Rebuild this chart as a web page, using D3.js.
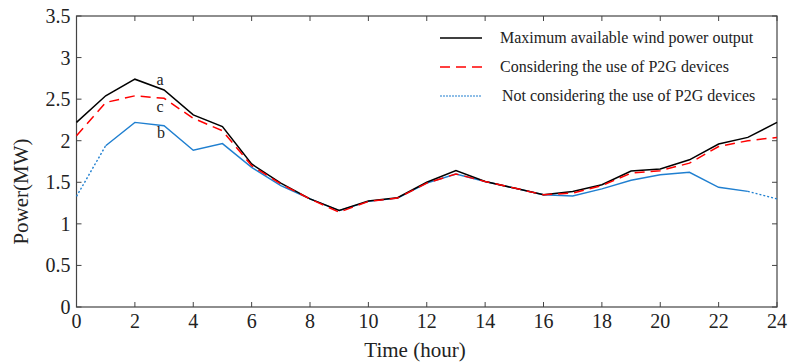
<!DOCTYPE html>
<html>
<head>
<meta charset="utf-8">
<script src="https://cdn.jsdelivr.net/npm/d3@7"></script>
<style>
  body { margin: 0; background: #fff; }
  text { font-family: "Liberation Serif", "Times New Roman", serif; fill: #222; }
</style>
</head>
<body>
<div id="chart"></div>
<script>
// hours 0..24
const hours = d3.range(0, 25);
const maxWind = [2.22, 2.54, 2.74, 2.61, 2.31, 2.17, 1.72, 1.49, 1.30, 1.16, 1.275, 1.315, 1.50, 1.64, 1.51, 1.43, 1.35, 1.39, 1.47, 1.635, 1.66, 1.77, 1.96, 2.04, 2.22];
const withP2G = [2.06, 2.46, 2.54, 2.51, 2.27, 2.12, 1.70, 1.48, 1.30, 1.14, 1.27, 1.31, 1.49, 1.60, 1.51, 1.43, 1.35, 1.37, 1.46, 1.61, 1.64, 1.73, 1.93, 2.00, 2.04];
const noP2G = [1.33, 1.94, 2.22, 2.18, 1.885, 1.965, 1.68, 1.46, 1.30, 1.16, 1.27, 1.31, 1.49, 1.60, 1.51, 1.43, 1.35, 1.335, 1.42, 1.525, 1.59, 1.62, 1.44, 1.39, 1.30];
const xTicks = d3.range(0, 25, 2);
const yTicks = [0, 0.5, 1, 1.5, 2, 2.5, 3, 3.5];
const legendLabels = ['Maximum available wind power output', 'Considering the use of P2G devices', 'Not considering the use of P2G devices'];

const width = 788, height = 363;
const margin = { left: 76.5, right: 11, top: 16, bottom: 56 };

const svg = d3.select('#chart').append('svg')
  .attr('width', width)
  .attr('height', height);

const x = d3.scaleLinear().domain([0, 24]).range([margin.left, width - margin.right]);
const y = d3.scaleLinear().domain([0, 3.5]).range([height - margin.bottom, margin.top]);

const axisColor = '#444';

// box
svg.append('rect')
  .attr('x', x(0)).attr('y', y(3.5))
  .attr('width', x(24) - x(0)).attr('height', y(0) - y(3.5))
  .attr('fill', 'none').attr('stroke', axisColor).attr('stroke-width', 1.2);

// ticks (inward, on all four sides)
const tl = 5;
xTicks.forEach(t => {
  svg.append('line').attr('x1', x(t)).attr('x2', x(t)).attr('y1', y(0)).attr('y2', y(0) - tl)
    .attr('stroke', axisColor);
  svg.append('line').attr('x1', x(t)).attr('x2', x(t)).attr('y1', y(3.5)).attr('y2', y(3.5) + tl)
    .attr('stroke', axisColor);
  svg.append('text').attr('x', x(t)).attr('y', y(0) + 21)
    .attr('text-anchor', 'middle').style('font-size', '20px').text(t);
});
yTicks.forEach(t => {
  svg.append('line').attr('x1', x(0)).attr('x2', x(0) + tl).attr('y1', y(t)).attr('y2', y(t))
    .attr('stroke', axisColor);
  svg.append('line').attr('x1', x(24)).attr('x2', x(24) - tl).attr('y1', y(t)).attr('y2', y(t))
    .attr('stroke', axisColor);
  svg.append('text').attr('x', x(0) - 6).attr('y', y(t) + 7)
    .attr('text-anchor', 'end').style('font-size', '20px').text(t);
});

// axis titles
svg.append('text').attr('x', 415).attr('y', height - 6)
  .attr('text-anchor', 'middle').style('font-size', '21px').text('Time (hour)');
svg.append('text')
  .attr('transform', `translate(28,${(y(0) + y(3.5)) / 2 + 30}) rotate(-90)`)
  .attr('text-anchor', 'middle').style('font-size', '21px').text('Power(MW)');

const line = d3.line().x(d => x(d[0])).y(d => y(d[1]));
const pts = arr => hours.map((h, i) => [h, arr[i]]);

// blue: dotted at both ends, solid in between
const bluePts = pts(noP2G);
svg.append('path').attr('d', line(bluePts.slice(1, 24)))
  .attr('fill', 'none').attr('stroke', '#1f7fd0').attr('stroke-width', 1.4);
[bluePts.slice(0, 2), bluePts.slice(23, 25)].forEach(seg => {
  svg.append('path').attr('d', line(seg))
    .attr('fill', 'none').attr('stroke', '#1f7fd0').attr('stroke-width', 1.4)
    .attr('stroke-dasharray', '2,2');
});

svg.append('path').attr('d', line(pts(maxWind)))
  .attr('fill', 'none').attr('stroke', '#000').attr('stroke-width', 1.5);

svg.append('path').attr('d', line(pts(withP2G)))
  .attr('fill', 'none').attr('stroke', '#ff0000').attr('stroke-width', 1.5)
  .attr('stroke-dasharray', '10,6');

// curve labels
svg.append('text').attr('x', 160).attr('y', 85).attr('text-anchor', 'middle').style('font-size', '16px').text('a');
svg.append('text').attr('x', 160).attr('y', 112).attr('text-anchor', 'middle').style('font-size', '16px').text('c');
svg.append('text').attr('x', 161).attr('y', 138).attr('text-anchor', 'middle').style('font-size', '16px').text('b');

// legend
const legend = [
  { stroke: '#000', dash: null, w: 1.5 },
  { stroke: '#ff0000', dash: '10,6', w: 1.5 },
  { stroke: '#1f7fd0', dash: '2,1', w: 1.2 }
];
legend.forEach((l, i) => {
  const ly = 38 + i * 29;
  svg.append('line').attr('x1', 440).attr('x2', 482).attr('y1', ly).attr('y2', ly)
    .attr('stroke', l.stroke).attr('stroke-width', l.w)
    .attr('stroke-dasharray', l.dash);
  svg.append('text').attr('x', i === 2 ? 502 : 500).attr('y', ly + 5)
    .style('font-size', '16px').text(legendLabels[i]);
});
</script>
</body>
</html>
